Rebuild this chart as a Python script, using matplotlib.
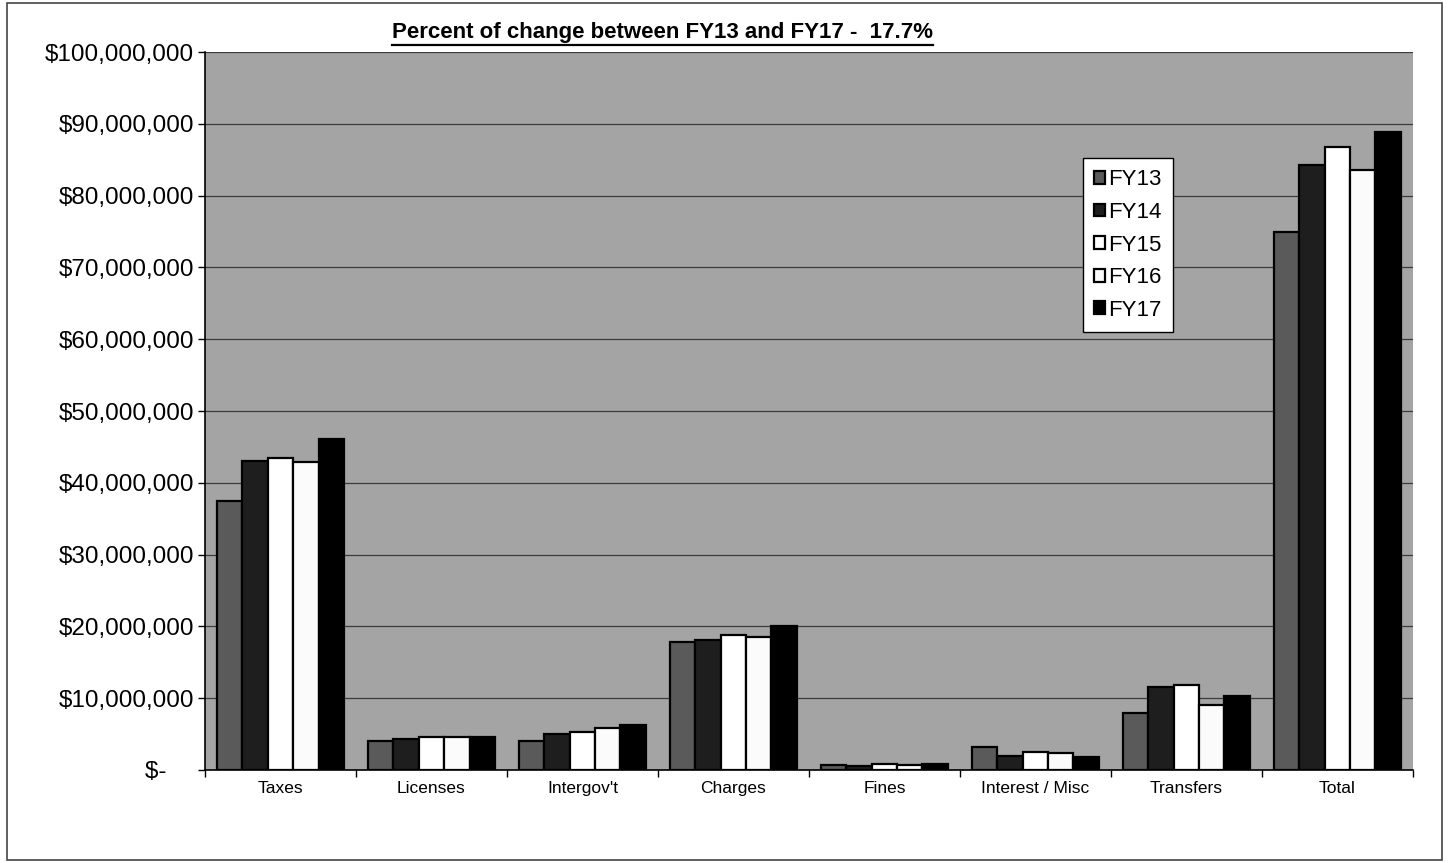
import numpy as np
import matplotlib.pyplot as plt
from matplotlib.lines import Line2D
from matplotlib.patches import Rectangle

plt.rcParams['font.family'] = ['Liberation Sans', 'DejaVu Sans']

categories = ['Taxes', 'Licenses', "Intergov't", 'Charges', 'Fines',
              'Interest / Misc', 'Transfers', 'Total']
years = ['FY13', 'FY14', 'FY15', 'FY16', 'FY17']
fy13 = [37.4, 4.0, 4.0, 17.8, 0.7, 3.2, 8.0, 74.9]
fy14 = [43.0, 4.3, 5.0, 18.1, 0.6, 2.0, 11.6, 84.3]
fy15 = [43.5, 4.6, 5.3, 18.8, 0.9, 2.5, 11.8, 86.8]
fy16 = [42.9, 4.6, 5.8, 18.5, 0.7, 2.3, 9.0, 83.6]
fy17 = [46.1, 4.6, 6.3, 20.1, 0.9, 1.8, 10.3, 88.9]
series = [fy13, fy14, fy15, fy16, fy17]
ytick_labels = ['$-    '] + ['${:,.0f}'.format(v * 1e6) for v in range(10, 101, 10)]

colors = ['#5a5a5a', '#1e1e1e', '#ffffff', '#fbfbfb', '#000000']

fig = plt.figure(figsize=(14.49, 8.63), dpi=100)
fig.patches.append(Rectangle((0.005, 0.003), 0.99, 0.994, transform=fig.transFigure,
                             fill=False, edgecolor='#444444', lw=1.2))
ax = fig.add_axes([0.1415, 0.1078, 0.8335, 0.8319])
ax.set_facecolor('#a4a4a4')

x = np.arange(len(categories))
w = 0.168
for i, (vals, c) in enumerate(zip(series, colors)):
    ax.bar(x + (i - 2) * w, np.array(vals) * 1e6, width=w, color=c,
           edgecolor='black', linewidth=1.6, label=years[i], zorder=3)

ax.set_xlim(-0.5, len(categories) - 0.5)
ax.set_ylim(0, 100e6)
ax.set_yticks(np.arange(0, 101e6, 10e6))
ax.set_yticklabels([s.replace('$', r'\$') for s in ytick_labels], fontsize=17.5)
ax.yaxis.grid(True, color='#3c3c3c', lw=0.9, zorder=1)
ax.set_xticks(x)
ax.set_xticklabels(categories, fontsize=12.5)
ax.tick_params(axis='x', length=0, pad=8)
ax.tick_params(axis='y', length=5, width=1, pad=3)
ax.set_xticks(np.arange(-0.5, len(categories), 1), minor=True)
ax.tick_params(axis='x', which='minor', length=5, width=1)
for s in ['top', 'right']:
    ax.spines[s].set_visible(False)
ax.spines['left'].set_linewidth(1.2)
ax.spines['bottom'].set_linewidth(1.2)

leg = ax.legend(loc='upper left', bbox_to_anchor=(0.727, 0.852), borderaxespad=0,
                fontsize=16, frameon=True, fancybox=False, edgecolor='black',
                framealpha=1, handlelength=0.5, handleheight=0.5, handletextpad=0.15,
                labelspacing=0.52, borderpad=0.5)
leg.get_frame().set_linewidth(1.0)

title = fig.text(0.457, 0.962, 'Percent of change between FY13 and FY17 -  17.7%',
                 ha='center', va='center', fontsize=16, fontweight='bold')
fig.canvas.draw()
bb = title.get_window_extent().transformed(fig.transFigure.inverted())
fig.add_artist(Line2D([bb.x0, bb.x1], [bb.y0 - 0.002, bb.y0 - 0.002],
                      transform=fig.transFigure, color='black', lw=1.6))

fig.savefig('out.png', dpi=100)
